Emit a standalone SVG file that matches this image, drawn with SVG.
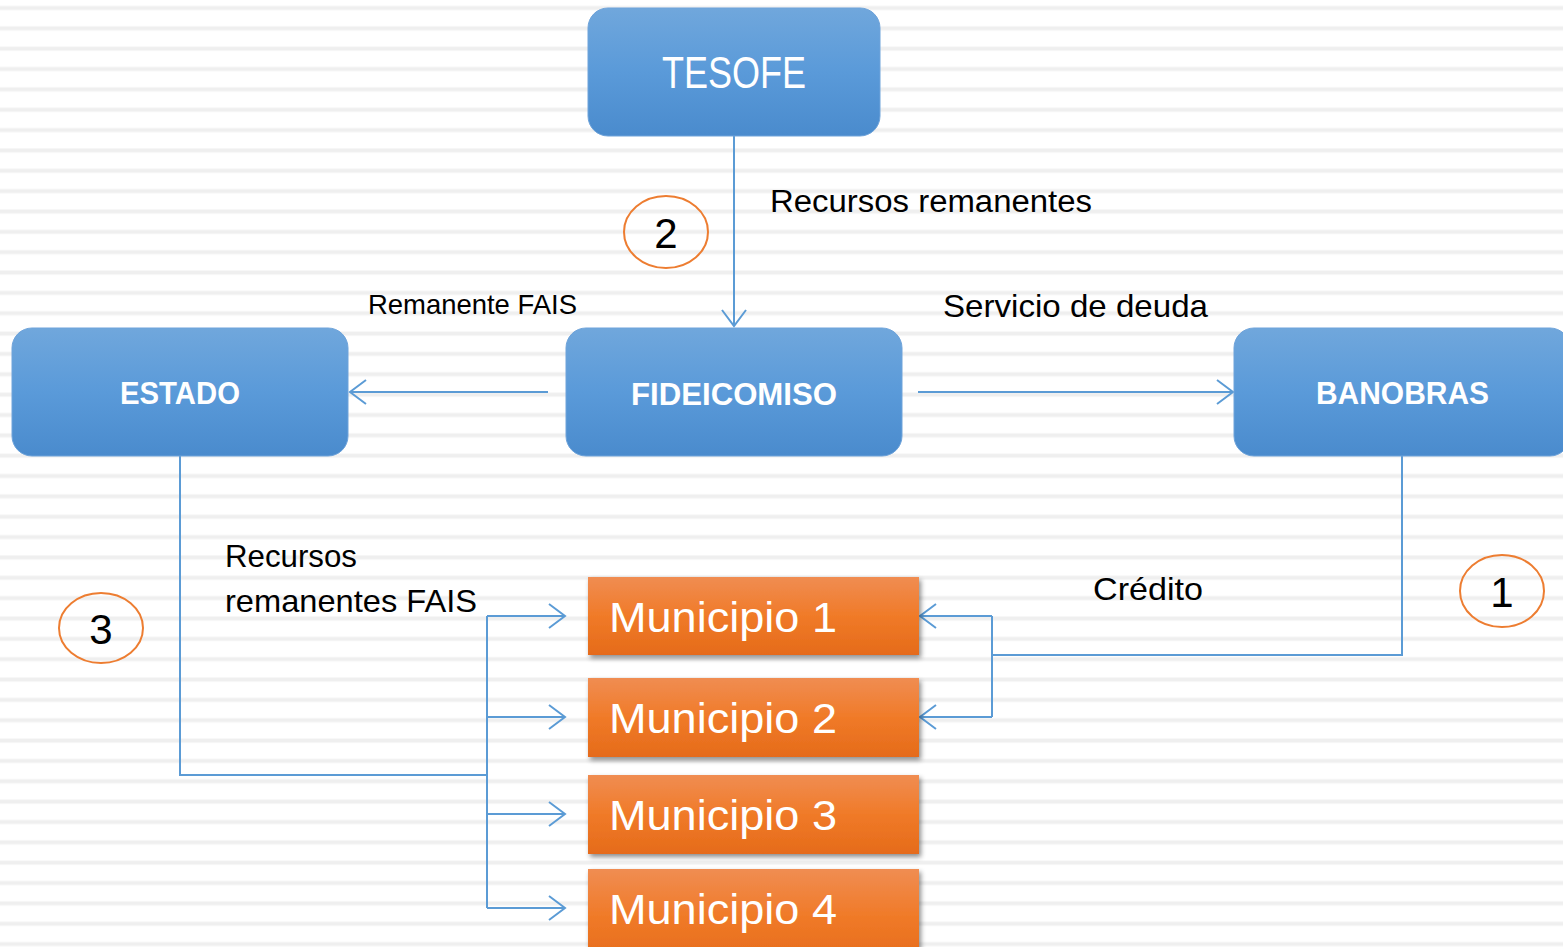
<svg xmlns="http://www.w3.org/2000/svg" width="1563" height="947" viewBox="0 0 1563 947">
  <defs>
    <pattern id="stripes" patternUnits="userSpaceOnUse" x="0" y="5.5" width="40" height="20.35">
      <rect x="0" y="0" width="40" height="5" fill="#f7f7f7"/>
      <rect x="0" y="1" width="40" height="3" fill="#efefef"/>
    </pattern>
    <linearGradient id="blueGrad" x1="0" y1="0" x2="0" y2="1">
      <stop offset="0" stop-color="#70a7dc"/>
      <stop offset="0.5" stop-color="#5a9ad9"/>
      <stop offset="1" stop-color="#4a8bcd"/>
    </linearGradient>
    <linearGradient id="orangeGrad" x1="0" y1="0" x2="0" y2="1">
      <stop offset="0" stop-color="#f08d52"/>
      <stop offset="0.5" stop-color="#f07a28"/>
      <stop offset="1" stop-color="#e56b1a"/>
    </linearGradient>
    <filter id="shadow" x="-5%" y="-10%" width="115%" height="130%">
      <feDropShadow dx="2" dy="3" stdDeviation="2.5" flood-color="#000" flood-opacity="0.45"/>
    </filter>
    <marker id="arrow" markerUnits="userSpaceOnUse" markerWidth="24" markerHeight="30" refX="17" refY="13" orient="auto">
      <path d="M1,1 L17,13 L1,25" fill="none" stroke="#5b9bd5" stroke-width="2"/>
    </marker>
    <style>
      .blue { fill: url(#blueGrad); stroke: #6ea3da; stroke-width: 1; }
      .muni { fill: url(#orangeGrad); filter: url(#shadow); }
      .conn { fill: none; stroke: #5b9bd5; stroke-width: 2; }
      .ntitle { font-family: "Liberation Sans", Arial, sans-serif; fill: #ffffff; }
      .bold { font-weight: bold; }
      .mtext { font-family: "Liberation Sans", Arial, sans-serif; fill: #ffffff; font-size: 43px; }
      .label { font-family: "Liberation Sans", Arial, sans-serif; fill: #000000; }
      .circ { fill: none; stroke: #ed7d31; stroke-width: 2; }
    </style>
  </defs>

  <rect x="0" y="0" width="1563" height="947" fill="#ffffff"/>
  <rect x="0" y="0" width="1563" height="947" fill="url(#stripes)"/>

  <g id="connectors">
    <path class="conn" d="M734,136 V326" marker-end="url(#arrow)"/>
    <path class="conn" d="M548,392 H350" marker-end="url(#arrow)"/>
    <path class="conn" d="M918,392 H1233" marker-end="url(#arrow)"/>
    <path class="conn" d="M1402,456 V655 H992"/>
    <path class="conn" d="M992,616 V717"/>
    <path class="conn" d="M992,616 H920" marker-end="url(#arrow)"/>
    <path class="conn" d="M992,717 H920" marker-end="url(#arrow)"/>
    <path class="conn" d="M180,456 V775 H487"/>
    <path class="conn" d="M487,616 V908"/>
    <path class="conn" d="M487,616 H565" marker-end="url(#arrow)"/>
    <path class="conn" d="M487,717 H565" marker-end="url(#arrow)"/>
    <path class="conn" d="M487,814 H565" marker-end="url(#arrow)"/>
    <path class="conn" d="M487,908 H565" marker-end="url(#arrow)"/>
  </g>

  <g id="tesofe">
    <rect class="blue" x="588" y="8" width="292" height="128" rx="20" ry="20"/>
    <text class="ntitle" x="662" y="88" font-size="44" textLength="144" lengthAdjust="spacingAndGlyphs">TESOFE</text>
  </g>
  <g id="estado">
    <rect class="blue" x="12" y="328" width="336" height="128" rx="20" ry="20"/>
    <text class="ntitle bold" x="120" y="404" font-size="31" textLength="120" lengthAdjust="spacingAndGlyphs">ESTADO</text>
  </g>
  <g id="fideicomiso">
    <rect class="blue" x="566" y="328" width="336" height="128" rx="20" ry="20"/>
    <text class="ntitle bold" x="631" y="405" font-size="31" textLength="206" lengthAdjust="spacingAndGlyphs">FIDEICOMISO</text>
  </g>
  <g id="banobras">
    <rect class="blue" x="1234" y="328" width="336" height="128" rx="20" ry="20"/>
    <text class="ntitle bold" x="1316" y="404" font-size="31" textLength="173" lengthAdjust="spacingAndGlyphs">BANOBRAS</text>
  </g>

  <g id="municipio1">
    <rect class="muni" x="588" y="577" width="331" height="78"/>
    <text class="mtext" x="609" y="632" textLength="228" lengthAdjust="spacingAndGlyphs">Municipio 1</text>
  </g>
  <g id="municipio2">
    <rect class="muni" x="588" y="678" width="331" height="79"/>
    <text class="mtext" x="609" y="733" textLength="228" lengthAdjust="spacingAndGlyphs">Municipio 2</text>
  </g>
  <g id="municipio3">
    <rect class="muni" x="588" y="775" width="331" height="79"/>
    <text class="mtext" x="609" y="830" textLength="228" lengthAdjust="spacingAndGlyphs">Municipio 3</text>
  </g>
  <g id="municipio4">
    <rect class="muni" x="588" y="869" width="331" height="95"/>
    <text class="mtext" x="609" y="924" textLength="228" lengthAdjust="spacingAndGlyphs">Municipio 4</text>
  </g>

  <g id="labels">
    <text class="label" x="770" y="212" font-size="31" textLength="322" lengthAdjust="spacingAndGlyphs">Recursos remanentes</text>
    <text class="label" x="368" y="314" font-size="28" textLength="209" lengthAdjust="spacingAndGlyphs">Remanente FAIS</text>
    <text class="label" x="943" y="317" font-size="32" textLength="265" lengthAdjust="spacingAndGlyphs">Servicio de deuda</text>
    <text class="label" x="225" y="567" font-size="32" textLength="132" lengthAdjust="spacingAndGlyphs">Recursos</text>
    <text class="label" x="225" y="612" font-size="32" textLength="252" lengthAdjust="spacingAndGlyphs">remanentes FAIS</text>
    <text class="label" x="1093" y="600" font-size="32" textLength="110" lengthAdjust="spacingAndGlyphs">Crédito</text>
  </g>

  <g id="step2">
    <ellipse class="circ" cx="666" cy="232" rx="42" ry="36"/>
    <text class="label" x="666" y="248" font-size="42" text-anchor="middle">2</text>
  </g>
  <g id="step3">
    <ellipse class="circ" cx="101" cy="628" rx="42" ry="35"/>
    <text class="label" x="101" y="644" font-size="42" text-anchor="middle">3</text>
  </g>
  <g id="step1">
    <ellipse class="circ" cx="1502" cy="591" rx="42" ry="36"/>
    <text class="label" x="1502" y="607" font-size="42" text-anchor="middle">1</text>
  </g>
</svg>
